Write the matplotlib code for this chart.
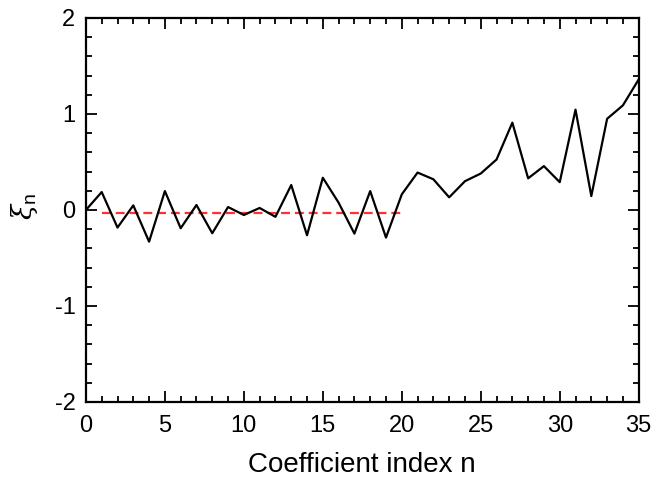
import matplotlib
matplotlib.use("agg")
from matplotlib import pyplot as plt
from matplotlib.ticker import MultipleLocator

# coefficient values
n_index = list(range(36))
xi_values = [0.00, 0.187, -0.183, 0.048, -0.33, 0.197, -0.19, 0.052, -0.242, 0.031,
             -0.052, 0.021, -0.071, 0.26, -0.263, 0.336, 0.076, -0.246, 0.197, -0.287,
             0.163, 0.39, 0.32, 0.132, 0.30, 0.38, 0.526, 0.91, 0.33, 0.457,
             0.29, 1.045, 0.145, 0.95, 1.09, 1.36]

# mean level fitted over the first coefficients
fit_n = [1, 20]
fit_xi = [-0.027, -0.027]

plt.rcParams["font.family"] = ["Liberation Sans", "DejaVu Sans"]
plt.rcParams["axes.unicode_minus"] = False
plt.rcParams["mathtext.fontset"] = "custom"
plt.rcParams["mathtext.rm"] = "Liberation Sans"
plt.rcParams["mathtext.it"] = "DejaVu Serif:italic"

fig = plt.figure(figsize=(6.66, 4.8), dpi=100)
ax = fig.add_axes([0.129, 0.1625, 0.83, 0.80])

ax.plot(n_index, xi_values, color="black", lw=1.6, zorder=3)
ax.plot(fit_n, fit_xi, color="#ff3030", lw=1.6, ls=(0, (4, 2.2)), zorder=2)

ax.set_xlim(0, 35)
ax.set_ylim(-2, 2)
ax.xaxis.set_major_locator(MultipleLocator(5))
ax.xaxis.set_minor_locator(MultipleLocator(1))
ax.yaxis.set_major_locator(MultipleLocator(1))
ax.yaxis.set_minor_locator(MultipleLocator(0.2))

ax.tick_params(which="both", direction="in", top=True, right=True, width=1.3)
ax.tick_params(which="major", length=8, labelsize=17)
ax.tick_params(axis="x", which="major", pad=9.5)
ax.tick_params(axis="y", which="major", pad=7.5)
ax.tick_params(which="minor", length=4.5)
for spine in ax.spines.values():
    spine.set_linewidth(1.6)

ax.set_xlabel("Coefficient index n", fontsize=20, labelpad=11)
ax.set_ylabel(r"$\xi_\mathrm{n}$", fontsize=20)
ax.yaxis.set_label_coords(-0.083, 0.51)

fig.savefig("out.png", dpi=100)
